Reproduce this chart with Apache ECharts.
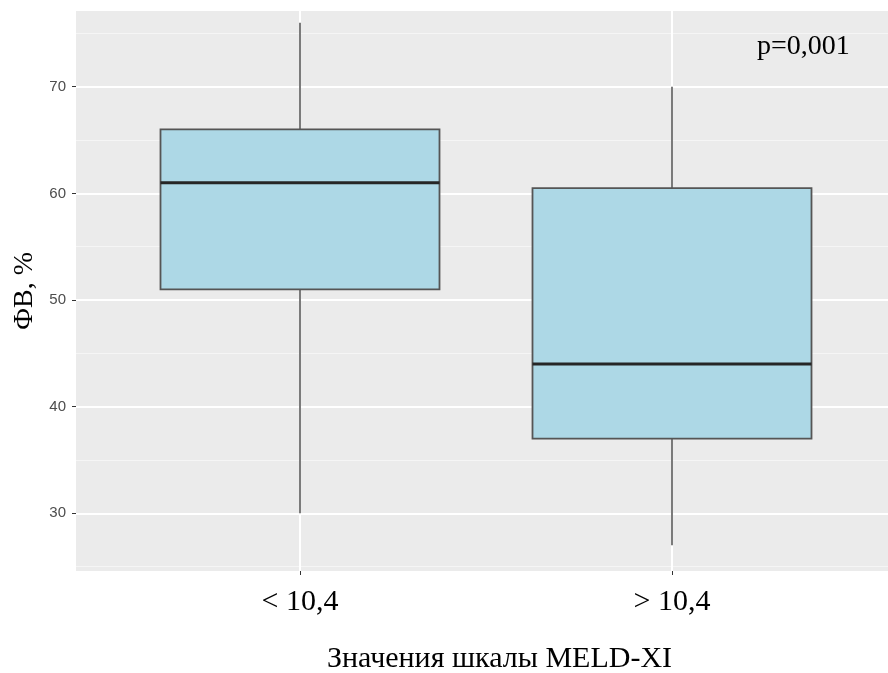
<!DOCTYPE html>
<html>
<head>
<meta charset="utf-8">
<script src="https://cdn.jsdelivr.net/npm/echarts@6/dist/echarts.min.js"></script>
<style>html,body{margin:0;padding:0;background:#fff;}#c{width:888px;height:673px;}</style>
</head>
<body>
<div id="c"></div>
<script>
const categories = ['< 10,4', '> 10,4'];
const whiskerLow = [30, 27];
const q1 = [51, 37];
const median = [61, 44];
const q3 = [66, 60.5];
const whiskerHigh = [76, 70];
const yTicks = [30, 40, 50, 60, 70];
const yMin = 24.59, yMax = 77.1;

const boxData = categories.map((c, i) => [i, whiskerLow[i], q1[i], median[i], q3[i], whiskerHigh[i]]);

const chart = echarts.init(document.getElementById('c'), null, {renderer: 'canvas'});
chart.setOption({
  animation: false,
  backgroundColor: '#fff',
  grid: [
    {left: 300, right: 216, top: 11, bottom: 102, outerBoundsMode: 'none', containLabel: false},
    {left: 76, right: 0, top: 11, bottom: 102, outerBoundsMode: 'none', containLabel: false,
     show: true, backgroundColor: '#EBEBEB', borderWidth: 0}
  ],
  xAxis: [
    {
      gridIndex: 0, type: 'category', data: categories, boundaryGap: false,
      axisLine: {show: false},
      axisTick: {show: true, length: 4, lineStyle: {color: '#333', width: 1}},
      axisLabel: {margin: 16, color: '#000', fontFamily: 'Liberation Serif', fontSize: 30},
      splitLine: {show: true, lineStyle: {color: '#fff', width: 2}},
      name: 'Значения шкалы MELD-XI', nameLocation: 'middle', nameGap: 73,
      nameTextStyle: {color: '#000', fontFamily: 'Liberation Serif', fontSize: 30, padding: [0, 0, 0, 27]}
    },
    {gridIndex: 1, type: 'value', show: false, min: 0, max: 1}
  ],
  yAxis: [
    {gridIndex: 0, type: 'value', min: yMin, max: yMax, show: false},
    {
      gridIndex: 1, type: 'value', min: yMin, max: yMax,
      axisLine: {show: false},
      axisTick: {show: true, length: 4, customValues: yTicks, lineStyle: {color: '#333', width: 1}},
      axisLabel: {customValues: yTicks, margin: 10, color: '#4D4D4D', fontFamily: 'Liberation Sans', fontSize: 15},
      splitLine: {show: true, lineStyle: {color: '#fff', width: 2}},
      minorTick: {show: false, splitNumber: 2},
      minorSplitLine: {show: true, lineStyle: {color: '#F5F5F5', width: 1}},
      name: 'ФВ, %', nameLocation: 'middle', nameRotate: 90, nameGap: 33,
      nameTextStyle: {color: '#000', fontFamily: 'Liberation Serif', fontSize: 28}
    }
  ],
  graphic: [{
    type: 'text', left: 757, top: 33,
    style: {text: 'p=0,001', fill: '#000', font: '28px "Liberation Serif"'}
  }],
  series: [{
    type: 'custom',
    xAxisIndex: 0, yAxisIndex: 0,
    clip: false,
    z: 5,
    data: boxData,
    encode: {x: 0, y: [1, 2, 3, 4, 5]},
    renderItem: function (params, api) {
      const i = api.value(0);
      const pLow = api.coord([i, api.value(1)]);
      const pQ1 = api.coord([i, api.value(2)]);
      const pMed = api.coord([i, api.value(3)]);
      const pQ3 = api.coord([i, api.value(4)]);
      const pHigh = api.coord([i, api.value(5)]);
      const w = api.size([1, 0])[0] * 0.75;
      const x = pMed[0];
      return {
        type: 'group',
        children: [
          {type: 'line', shape: {x1: x, y1: pHigh[1], x2: x, y2: pQ3[1]}, style: {stroke: '#333', lineWidth: 1.3}},
          {type: 'line', shape: {x1: x, y1: pQ1[1], x2: x, y2: pLow[1]}, style: {stroke: '#333', lineWidth: 1.3}},
          {type: 'rect', shape: {x: x - w / 2, y: pQ3[1], width: w, height: pQ1[1] - pQ3[1]},
           style: {fill: '#ADD8E6', stroke: '#555', lineWidth: 1.8}},
          {type: 'line', shape: {x1: x - w / 2, y1: pMed[1], x2: x + w / 2, y2: pMed[1]}, style: {stroke: '#262626', lineWidth: 3}}
        ]
      };
    }
  }]
});
</script>
</body>
</html>
